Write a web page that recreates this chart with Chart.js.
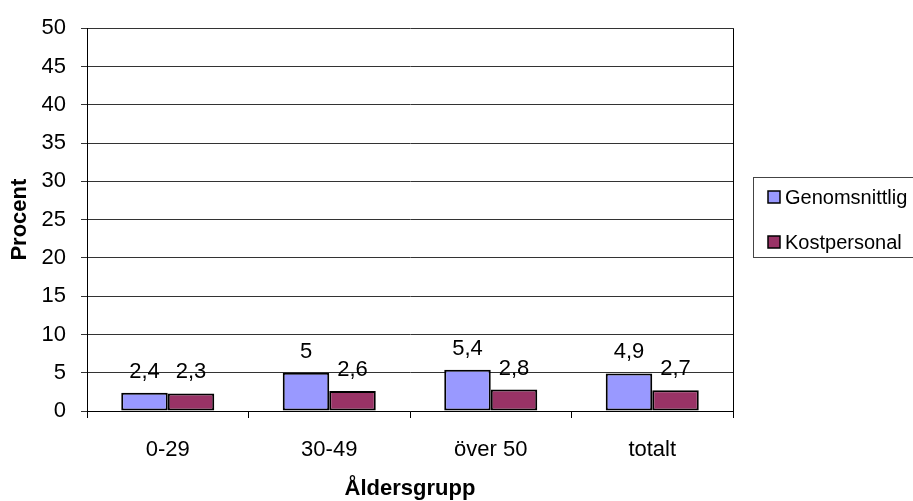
<!DOCTYPE html>
<html>
<head>
<meta charset="utf-8">
<script src="https://cdn.jsdelivr.net/npm/chart.js@4"></script>
<style>
  html, body { margin: 0; padding: 0; background: #fff; }
  #wrap { width: 913px; height: 501px; }
</style>
</head>
<body>
<div id="wrap"><canvas id="chart" width="913" height="501"></canvas></div>
<script>
// Data
const categories = ['0-29', '30-49', 'över 50', 'totalt'];
const genomsnittlig = [2.4, 5, 5.4, 4.9];
const kostpersonal = [2.3, 2.6, 2.8, 2.7];
const seriesNames = ['Genomsnittlig', 'Kostpersonal'];
const yTicks = [0, 5, 10, 15, 20, 25, 30, 35, 40, 45, 50];

const FONT = "Arial, 'Liberation Sans', sans-serif";

// value labels above the bars, Swedish decimal comma
const valueLabels = {
    id: 'valueLabels',
    afterDatasetsDraw(chart) {
        const ctx = chart.ctx;
        ctx.save();
        ctx.font = '22px ' + FONT;
        ctx.fillStyle = '#000';
        ctx.textAlign = 'center';
        ctx.textBaseline = 'alphabetic';
        chart.data.datasets.forEach((ds, i) => {
            chart.getDatasetMeta(i).data.forEach((bar, j) => {
                const txt = String(ds.data[j]).replace('.', ',');
                ctx.fillText(txt, bar.x, bar.y - 15);
            });
        });
        ctx.restore();
    }
};

// right border of the plot + boxed legend on the right
const frameAndLegend = {
    id: 'frameAndLegend',
    afterDraw(chart) {
        const ctx = chart.ctx;
        const a = chart.chartArea;
        ctx.save();
        ctx.strokeStyle = '#000';
        ctx.lineWidth = 1;
        ctx.beginPath();
        ctx.moveTo(Math.round(a.right) + 0.5, a.top);
        ctx.lineTo(Math.round(a.right) + 0.5, a.bottom);
        ctx.stroke();

        // legend box
        ctx.strokeStyle = '#444';
        ctx.strokeRect(753.5, 177.5, 170, 80);
        ctx.font = '20px ' + FONT;
        ctx.textBaseline = 'middle';
        ctx.textAlign = 'left';
        const rows = [197, 242];
        chart.data.datasets.forEach((ds, i) => {
            const y = rows[i];
            ctx.fillStyle = ds.backgroundColor;
            ctx.fillRect(768, y - 6, 12, 12);
            ctx.lineWidth = 1.5;
            ctx.strokeStyle = '#000';
            ctx.strokeRect(768, y - 6, 12, 12);
            ctx.fillStyle = '#000';
            ctx.fillText(ds.label, 785, y + 1);
        });
        ctx.restore();
    }
};

new Chart(document.getElementById('chart'), {
    type: 'bar',
    data: {
        labels: categories,
        datasets: [
            {
                label: seriesNames[0],
                data: genomsnittlig,
                backgroundColor: '#9999FF',
                borderColor: '#000',
                borderWidth: 2,
                borderSkipped: false
            },
            {
                label: seriesNames[1],
                data: kostpersonal,
                backgroundColor: '#993366',
                borderColor: '#000',
                borderWidth: 2,
                borderSkipped: false
            }
        ]
    },
    options: {
        responsive: false,
        animation: false,
        events: [],
        layout: { padding: { left: 0, right: 180, top: 22, bottom: 0 } },
        datasets: { bar: { categoryPercentage: 0.576, barPercentage: 1 } },
        plugins: {
            legend: { display: false },
            tooltip: { enabled: false }
        },
        scales: {
            x: {
                grid: { drawOnChartArea: false, drawTicks: true, tickLength: 7, color: '#000', offset: true },
                border: { display: true, color: '#000', width: 1 },
                ticks: { color: '#000', font: { family: FONT, size: 22 }, padding: 19, maxRotation: 0 },
                title: {
                    display: true,
                    text: 'Åldersgrupp',
                    color: '#000',
                    font: { family: FONT, size: 22, weight: 'bold' },
                    padding: { top: 0, bottom: -1 }
                },
                afterFit(scale) { scale.height = 90; }
            },
            y: {
                min: 0,
                max: 50,
                afterBuildTicks(scale) { scale.ticks = yTicks.map(v => ({ value: v })); },
                grid: { color: '#333', lineWidth: 1, tickLength: 6 },
                border: { display: true, color: '#000', width: 1 },
                ticks: { color: '#000', font: { family: FONT, size: 22 }, padding: 15 },
                title: {
                    display: true,
                    text: 'Procent',
                    color: '#000',
                    font: { family: FONT, size: 22, weight: 'bold' },
                    padding: { top: 7, bottom: 0 }
                },
                afterFit(scale) { scale.width = 87; }
            }
        }
    },
    plugins: [valueLabels, frameAndLegend]
});
</script>
</body>
</html>
